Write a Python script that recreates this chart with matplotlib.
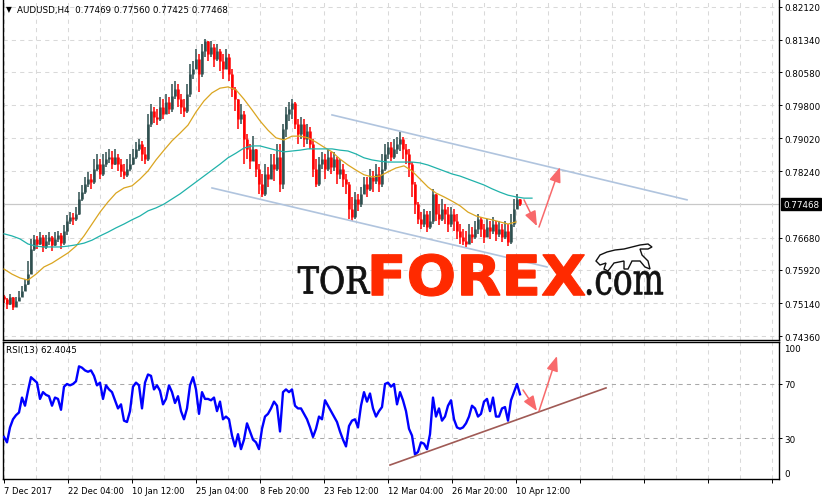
import numpy as np
import matplotlib
matplotlib.use("Agg")
import matplotlib.pyplot as plt
from matplotlib.textpath import TextPath
from matplotlib.patches import PathPatch, Polygon
from matplotlib.font_manager import FontProperties
from matplotlib.transforms import Affine2D

# AUDUSD H4, one candle sampled every 3 bars (open = previous close)
first_open = 0.7530
closes = [
    0.7524, 0.7512, 0.7528, 0.7505, 0.7519, 0.7528, 0.7542, 0.7559, 0.7582, 0.7641,
    0.7665, 0.7653, 0.7670, 0.7646, 0.7660, 0.7670, 0.7651, 0.7665, 0.7674, 0.7655,
    0.7684, 0.7707, 0.7717, 0.7712, 0.7724, 0.7759, 0.7775, 0.7794, 0.7806, 0.7799,
    0.7830, 0.7841, 0.7818, 0.7841, 0.7853, 0.7858, 0.7841, 0.7858, 0.7841, 0.7825,
    0.7815, 0.7830, 0.7841, 0.7858, 0.7877, 0.7889, 0.7865, 0.7853, 0.7936, 0.7966,
    0.7952, 0.7947, 0.7976, 0.7959, 0.7987, 0.7971, 0.8002, 0.8018, 0.7994, 0.7976,
    0.7966, 0.8006, 0.8053, 0.8065, 0.8089, 0.8053, 0.8108, 0.8131, 0.8100, 0.8117,
    0.8089, 0.8108, 0.8084, 0.8065, 0.8093, 0.8053, 0.8018, 0.7994, 0.7947, 0.7959,
    0.7900, 0.7877, 0.7848, 0.7877, 0.7830, 0.7794, 0.7771, 0.7818, 0.7806, 0.7841,
    0.7830, 0.7858, 0.7794, 0.7924, 0.7959, 0.7971, 0.7985, 0.7936, 0.7912, 0.7936,
    0.7900, 0.7919, 0.7889, 0.7830, 0.7794, 0.7841, 0.7853, 0.7830, 0.7858, 0.7834,
    0.7853, 0.7818, 0.7830, 0.7806, 0.7794, 0.7735, 0.7717, 0.7759, 0.7747, 0.7771,
    0.7794, 0.7783, 0.7811, 0.7801, 0.7818, 0.7794, 0.7830, 0.7865, 0.7881, 0.7858,
    0.7877, 0.7889, 0.7900, 0.7877, 0.7865, 0.7841, 0.7794, 0.7747, 0.7712, 0.7700,
    0.7724, 0.7693, 0.7707, 0.7771, 0.7724, 0.7712, 0.7735, 0.7724, 0.7700, 0.7724,
    0.7707, 0.7684, 0.7670, 0.7660, 0.7653, 0.7677, 0.7670, 0.7688, 0.7712, 0.7688,
    0.7670, 0.7693, 0.7684, 0.7700, 0.7677, 0.7688, 0.7670, 0.7684, 0.7658, 0.7700,
    0.7735, 0.7759, 0.77468,
]
highs = [
    0.7533, 0.7526, 0.7535, 0.7524, 0.7528, 0.7542, 0.7554, 0.7571, 0.7613, 0.7665,
    0.7674, 0.7672, 0.7681, 0.7674, 0.7674, 0.7681, 0.7672, 0.7681, 0.7684, 0.7679,
    0.7698, 0.7721, 0.7728, 0.7726, 0.7740, 0.7775, 0.7792, 0.7811, 0.7823, 0.7818,
    0.7853, 0.7865, 0.7853, 0.7865, 0.7870, 0.7877, 0.7872, 0.7877, 0.7865, 0.7853,
    0.7841, 0.7853, 0.7865, 0.7877, 0.7893, 0.7900, 0.7896, 0.7881, 0.7959, 0.7983,
    0.7976, 0.7971, 0.7999, 0.7994, 0.8006, 0.7999, 0.8030, 0.8037, 0.8030, 0.8006,
    0.7994, 0.8030, 0.8077, 0.8084, 0.8112, 0.8100, 0.8124, 0.8136, 0.8131, 0.8131,
    0.8124, 0.8124, 0.8112, 0.8100, 0.8112, 0.8100, 0.8065, 0.8023, 0.7994, 0.7983,
    0.7966, 0.7912, 0.7889, 0.7907, 0.7877, 0.7841, 0.7818, 0.7841, 0.7834, 0.7865,
    0.7865, 0.7889, 0.7889, 0.7936, 0.7976, 0.7987, 0.7994, 0.7987, 0.7947, 0.7952,
    0.7947, 0.7936, 0.7929, 0.7900, 0.7853, 0.7858, 0.7870, 0.7865, 0.7877, 0.7870,
    0.7870, 0.7858, 0.7853, 0.7841, 0.7818, 0.7799, 0.7764, 0.7775, 0.7771, 0.7787,
    0.7811, 0.7811, 0.7830, 0.7825, 0.7841, 0.7834, 0.7865, 0.7889, 0.7893, 0.7893,
    0.7900, 0.7905, 0.7917, 0.7905, 0.7889, 0.7877, 0.7846, 0.7799, 0.7752, 0.7728,
    0.7735, 0.7731, 0.7731, 0.7783, 0.7771, 0.7747, 0.7759, 0.7747, 0.7740, 0.7740,
    0.7735, 0.7724, 0.7700, 0.7688, 0.7684, 0.7700, 0.7693, 0.7707, 0.7724, 0.7717,
    0.7700, 0.7712, 0.7707, 0.7717, 0.7707, 0.7707, 0.7700, 0.7707, 0.7700, 0.7724,
    0.7759, 0.7771, 0.77560,
]
lows = [
    0.7514, 0.7500, 0.7509, 0.7498, 0.7505, 0.7519, 0.7528, 0.7542, 0.7556, 0.7613,
    0.7637, 0.7641, 0.7651, 0.7634, 0.7641, 0.7651, 0.7637, 0.7648, 0.7658, 0.7641,
    0.7651, 0.7674, 0.7700, 0.7698, 0.7707, 0.7721, 0.7754, 0.7771, 0.7787, 0.7783,
    0.7794, 0.7825, 0.7806, 0.7813, 0.7834, 0.7844, 0.7830, 0.7839, 0.7825, 0.7811,
    0.7806, 0.7811, 0.7825, 0.7839, 0.7853, 0.7872, 0.7848, 0.7841, 0.7848, 0.7929,
    0.7938, 0.7933, 0.7943, 0.7947, 0.7959, 0.7959, 0.7964, 0.7994, 0.7976, 0.7959,
    0.7952, 0.7962, 0.7999, 0.8042, 0.8065, 0.8011, 0.8046, 0.8093, 0.8084, 0.8093,
    0.8070, 0.8084, 0.8060, 0.8042, 0.8070, 0.8037, 0.7999, 0.7966, 0.7924, 0.7936,
    0.7841, 0.7853, 0.7830, 0.7853, 0.7811, 0.7771, 0.7764, 0.7766, 0.7787, 0.7811,
    0.7801, 0.7825, 0.7775, 0.7783, 0.7905, 0.7943, 0.7947, 0.7924, 0.7889, 0.7900,
    0.7881, 0.7889, 0.7877, 0.7811, 0.7787, 0.7790, 0.7830, 0.7806, 0.7825, 0.7818,
    0.7825, 0.7794, 0.7806, 0.7787, 0.7771, 0.7712, 0.7707, 0.7712, 0.7731, 0.7740,
    0.7771, 0.7764, 0.7778, 0.7775, 0.7794, 0.7775, 0.7787, 0.7825, 0.7853, 0.7848,
    0.7853, 0.7865, 0.7872, 0.7853, 0.7841, 0.7811, 0.7764, 0.7724, 0.7700, 0.7688,
    0.7693, 0.7681, 0.7688, 0.7700, 0.7707, 0.7698, 0.7707, 0.7700, 0.7681, 0.7693,
    0.7684, 0.7665, 0.7653, 0.7651, 0.7646, 0.7653, 0.7655, 0.7665, 0.7677, 0.7670,
    0.7655, 0.7670, 0.7665, 0.7677, 0.7660, 0.7670, 0.7658, 0.7665, 0.7648, 0.7653,
    0.7693, 0.7735, 0.77425,
]

# moving averages, one sample every 8 bars
ma_fast = [
    0.7594, 0.7582, 0.7573, 0.7568, 0.7582, 0.7599, 0.7608, 0.7620, 0.7632, 0.7648,
    0.7672, 0.7700, 0.7728, 0.7752, 0.7773, 0.7785, 0.7790, 0.7806, 0.7825, 0.7851,
    0.7874, 0.7896, 0.7914, 0.7933, 0.7964, 0.7990, 0.8009, 0.8020, 0.8023, 0.8016,
    0.7994, 0.7969, 0.7943, 0.7921, 0.7903, 0.7898, 0.7907, 0.7907, 0.7903, 0.7893,
    0.7881, 0.7870, 0.7853, 0.7839, 0.7827, 0.7816, 0.7811, 0.7813, 0.7823, 0.7832,
    0.7837, 0.7825, 0.7806, 0.7787, 0.7773, 0.7764, 0.7754, 0.7743, 0.7728, 0.7719,
    0.7714, 0.7710, 0.7705, 0.7700, 0.7705,
]
ma_slow = [
    0.7677, 0.7672, 0.7665, 0.7653, 0.7648, 0.7646, 0.7646, 0.7646, 0.7648, 0.7651,
    0.7655, 0.7662, 0.7672, 0.7681, 0.7691, 0.7700, 0.7710, 0.7719, 0.7731, 0.7738,
    0.7747, 0.7759, 0.7771, 0.7785, 0.7799, 0.7813, 0.7827, 0.7841, 0.7856, 0.7867,
    0.7879, 0.7884, 0.7884, 0.7879, 0.7874, 0.7870, 0.7872, 0.7874, 0.7877, 0.7877,
    0.7877, 0.7877, 0.7874, 0.7872, 0.7865, 0.7856, 0.7851, 0.7848, 0.7846, 0.7846,
    0.7846, 0.7846, 0.7844, 0.7839, 0.7832, 0.7825, 0.7818, 0.7813, 0.7806, 0.7799,
    0.7792, 0.7783, 0.7775, 0.7768, 0.7764, 0.7761, 0.7761,
]

# RSI(13), same sampling as the candles
rsi = [
    31, 27, 38, 44, 47, 49, 60, 54, 65, 75,
    73, 71, 59, 64, 62, 61, 54, 60, 59, 51,
    68, 70, 69, 70, 72, 83, 82, 80, 79, 80,
    76, 69, 71, 59, 69, 66, 64, 58, 52, 55,
    43, 42, 50, 68, 71, 69, 52, 71, 77, 76,
    66, 69, 65, 55, 59, 69, 64, 56, 61, 50,
    44, 52, 69, 75, 66, 48, 64, 59, 59, 58,
    60, 50, 57, 44, 46, 44, 32, 24, 33, 22,
    29, 41, 35, 29, 27, 22, 37, 46, 48, 52,
    57, 54, 35, 64, 66, 64, 66, 54, 52, 52,
    48, 44, 38, 31, 37, 46, 44, 58, 54, 50,
    46, 42, 35, 29, 24, 39, 43, 44, 38, 54,
    64, 57, 63, 52, 46, 50, 53, 70, 71, 68,
    70, 55, 64, 58, 50, 37, 32, 18, 20, 27,
    26, 22, 33, 60, 46, 52, 43, 46, 54, 58,
    44, 38, 37, 38, 41, 46, 54, 52, 46, 48,
    57, 59, 50, 60, 46, 46, 52, 53, 43, 58,
    64, 70, 62.4,
]

price_labels = ["0.82120", "0.81340", "0.80580", "0.79800", "0.79020",
                "0.78240", "0.76680", "0.75920", "0.75140", "0.74360"]
date_labels = ["7 Dec 2017", "22 Dec 04:00", "10 Jan 12:00", "25 Jan 04:00", "8 Feb 20:00",
               "23 Feb 12:00", "12 Mar 04:00", "26 Mar 20:00", "10 Apr 12:00"]
last_price = 0.77468
last_rsi_text = "62.4045"

# hand-drawn objects (bar index, value)
channel_up = [(328, 0.7957), (683, 0.7757)]
channel_dn = [(208, 0.7785), (543, 0.7599)]
arrows_price = [((520, 0.7757), (533, 0.7695)), ((535, 0.7693), (556, 0.7834))]
rsi_trend = [(386, 10.3), (602, 67.1)]
arrows_rsi = [((519, 65.6), (533, 50.1)), ((535, 50.1), (553, 90.6))]

plt.rcParams["font.family"] = ["DejaVu Sans"]
plt.rcParams["font.size"] = 6

W, H = 822, 502
fig = plt.figure(figsize=(W / 100, H / 100), dpi=100)
ax = fig.add_axes([3 / W, 1 - 341 / H, 776 / W, 341 / H])
rax = fig.add_axes([3 / W, 1 - 480 / H, 776 / W, 137 / H])

xb = np.arange(len(closes)) * 3
c = np.array(closes)
o = np.concatenate([[first_open], c[:-1]])
hi = np.maximum(np.array(highs), np.maximum(o, c))
lo = np.minimum(np.array(lows), np.minimum(o, c))
up = c >= o
grid_c = "#d9d9d9"
dash = (0, (4, 4))
major_x = np.arange(0, 775, 64)

for a in (ax, rax):
    a.set_xlim(-1, 775)
    a.set_xticks(major_x)
    a.set_xticks(np.arange(32, 775, 64), minor=True)
    a.tick_params(axis="x", which="minor", length=0)
    a.grid(True, axis="x", which="both", color=grid_c, lw=0.75, linestyle=dash, zorder=0)
    for s in a.spines.values():
        s.set_linewidth(1.0)
    a.yaxis.tick_right()
    a.tick_params(axis="y", direction="out", length=2.2, width=0.7, pad=1.5, labelsize=6.3)
ax.spines["top"].set_visible(False)

# main price panel
ax.set_ylim(0.74269, 0.8230)
ax.set_yticks([float(v) for v in price_labels])
ax.set_yticklabels(price_labels)
ax.grid(True, axis="y", color=grid_c, lw=0.75, linestyle=dash, zorder=0)
ax.tick_params(axis="x", labelbottom=False, length=0)
ax.axhline(last_price, color="#c8c8c8", lw=0.9, zorder=1)

bull_c, bear_c = "#2f4f4f", "#ff0000"
for mask, col in ((up, bull_c), (~up, bear_c)):
    ax.vlines(xb[mask], lo[mask], hi[mask], color=col, lw=1.1, zorder=2)
    ax.vlines(xb[mask], o[mask], c[mask], color=col, lw=1.8, zorder=2)
ax.plot(np.arange(len(ma_fast)) * 8, ma_fast, color="#daa520", lw=0.9, zorder=3)
ax.plot(np.arange(len(ma_slow)) * 8, ma_slow, color="#20b2aa", lw=0.9, zorder=3)

for line in (channel_up, channel_dn):
    ax.plot([p[0] for p in line], [p[1] for p in line], color="#b0c4de", lw=1.2, zorder=4)

arrow_c = "#f8696b"
aprops = dict(arrowstyle="-|>,head_length=0.9,head_width=0.35", color=arrow_c,
              lw=1.1, mutation_scale=10, shrinkA=0, shrinkB=0)
for start, end in arrows_price:
    ax.annotate("", xy=end, xytext=start, arrowprops=aprops, zorder=5)

ax.text(1 + 4 / 776, last_price, f"{last_price:.5f}", transform=ax.get_yaxis_transform(),
        ha="left", va="center", color="white", fontsize=6.3, zorder=6,
        bbox=dict(boxstyle="square,pad=0.2", fc="black", ec="black"))

# RSI panel
rax.set_ylim(0, 100.94)
rax.set_yticks([30, 70])
rax.set_yticklabels(["30", "70"])
rax.grid(True, axis="y", color="#a9a9a9", lw=0.75, linestyle=dash, zorder=0)
rax.set_xticklabels(date_labels + [""] * (len(major_x) - len(date_labels)), ha="left")
rax.tick_params(axis="x", which="major", direction="out", length=3, width=0.7, pad=2, labelsize=6)
rax.plot(xb, rsi, color="#0000ff", lw=1.7, zorder=3)
rax.plot([p[0] for p in rsi_trend], [p[1] for p in rsi_trend], color="#a05a55", lw=1.2, zorder=4)
for start, end in arrows_rsi:
    rax.annotate("", xy=end, xytext=start, arrowprops=aprops, zorder=5)
tr = rax.get_yaxis_transform()
rax.text(1 + 5 / 776, 96.5, "100", transform=tr, ha="left", va="center", fontsize=6.3)
rax.text(1 + 5 / 776, 4.4, "0", transform=tr, ha="left", va="center", fontsize=6.3)

# headers
fig.text(6 / W, 1 - 10 / H, "\u25bc", fontsize=5.5, va="center")
fig.text(17 / W, 1 - 10 / H, "AUDUSD,H4  0.77469 0.77560 0.77425 0.77468", fontsize=6.3, va="center")
fig.text(6 / W, 1 - 350 / H, f"RSI(13) {last_rsi_text}", fontsize=6.3, va="center")

# watermark logo in pixel coordinates
ov = fig.add_axes([0, 0, 1, 1], zorder=10)
ov.set_xlim(0, W)
ov.set_ylim(H, 0)
ov.axis("off")


def fit_text(s, box, prop, color, edge=0.0):
    tp = TextPath((0, 0), s, size=100, prop=prop)
    bb = tp.get_extents()
    x0, y0, x1, y1 = box
    t = Affine2D().translate(-bb.x0, -bb.y0).scale((x1 - x0) / bb.width, -(y1 - y0) / bb.height)
    t = t.translate(x0, y1) + ov.transData
    ov.add_patch(PathPatch(tp, transform=t, fc=color, ec=color, lw=edge))


serif = FontProperties(family="DejaVu Serif")
bold = FontProperties(family="DejaVu Sans", weight="bold")
fit_text("TOR", (298, 267, 370, 295), serif, "#111111", edge=0.6)
fit_text("FOREX", (372, 255, 585, 297), bold, "#ff2a00", edge=0.8)
fit_text(".com", (587, 272, 663, 296), serif, "#111111", edge=0.5)

bull = [(596, 262), (600, 256), (607, 253), (615, 251), (624, 250), (632, 248), (640, 246),
        (648, 245), (652, 248), (648, 250), (640, 250), (642, 256), (648, 262), (650, 270),
        (645, 268), (640, 262), (632, 262), (628, 270), (624, 270), (624, 262), (614, 264),
        (608, 272), (604, 270), (606, 264), (600, 266)]
ov.add_patch(Polygon(bull, closed=True, fc="white", ec="#111111", lw=1.0))

fig.savefig("out.png", dpi=100)
